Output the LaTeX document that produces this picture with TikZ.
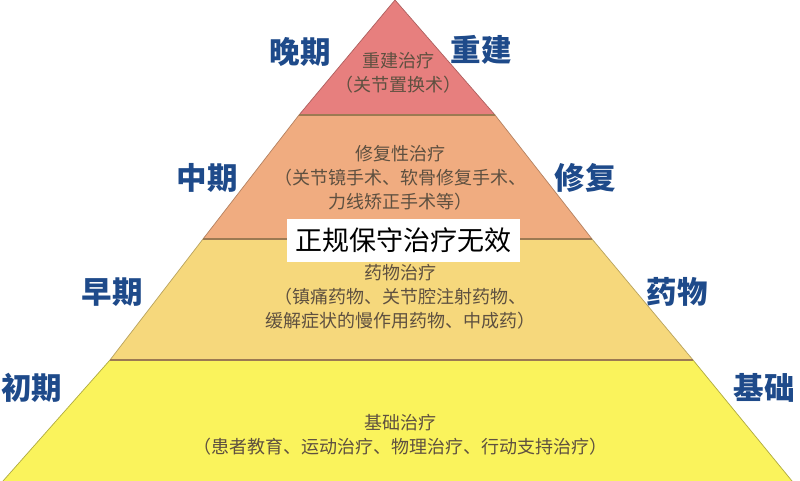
\documentclass[tikz,border=0pt]{standalone}
\usepackage{fontspec}
\newfontfamily\cjk{Noto Sans CJK SC}
\begin{document}
\begin{tikzpicture}[x=1pt,y=-1pt,
  inner/.style={font=\cjk\fontsize{18}{24}\selectfont, text=txtc, align=center, inner sep=0pt},
  stage/.style={font=\cjk\bfseries\fontsize{30.5}{32}\selectfont, text=lblc, inner sep=0pt},
  sepline/.style={draw=sepc, line width=1.2pt}]
\definecolor{c1}{HTML}{E77F7E}
\definecolor{c2}{HTML}{F0AC80}
\definecolor{c3}{HTML}{F6D87C}
\definecolor{c4}{HTML}{FAF35C}
\definecolor{sepc}{HTML}{9C7A52}
\definecolor{txtc}{HTML}{5E5040}
\definecolor{lblc}{HTML}{1E4A8A}
\useasboundingbox (0,0) rectangle (800,481);
\fill[white] (0,0) rectangle (800,481);
% layers
\coordinate (apex) at (395,0);
\coordinate (l1) at (299,115); \coordinate (r1) at (495,115);
\coordinate (l2) at (203,239); \coordinate (r2) at (592,239);
\coordinate (l3) at (110,360); \coordinate (r3) at (693,360);
\coordinate (l4) at (3,481);   \coordinate (r4) at (792,481);
\fill[c1] (apex) -- (r1) -- (l1) -- cycle;
\fill[c2] (l1) -- (r1) -- (r2) -- (l2) -- cycle;
\fill[c3] (l2) -- (r2) -- (r3) -- (l3) -- cycle;
\fill[c4] (l3) -- (r3) -- (r4) -- (l4) -- cycle;
\draw[draw=c1!75!black, line width=0.7pt] (l1) -- (apex) -- (r1);
\draw[draw=c2!75!black, line width=0.7pt] (l1) -- (l2) (r1) -- (r2);
\draw[draw=c3!75!black, line width=0.7pt] (l2) -- (l3) (r2) -- (r3);
\draw[draw=c4!70!black, line width=0.7pt] (l3) -- (l4) (r3) -- (r4);
\draw[sepline] (l1) -- (r1);
\draw[sepline] (l2) -- (r2);
\draw[sepline] (l3) -- (r3);
% inner texts
\node[inner] (t1) at (398,73) {重建治疗\\（关节置换术）};
\node[inner] (t2) at (400,178) {修复性治疗\\（关节镜手术、软骨修复手术、\\力线矫正手术等）};
\node[inner] (t3) at (400,297) {药物治疗\\（镇痛药物、关节腔注射药物、\\缓解症状的慢作用药物、中成药）};
\node[inner] (t4) at (400,435) {基础治疗\\（患者教育、运动治疗、物理治疗、行动支持治疗）};
% white box
\node[fill=white, minimum width=233pt, minimum height=43pt, inner sep=0pt,
  font=\cjk\fontsize{27}{30}\selectfont, text=black] (fail) at (403,240) {正规保守治疗无效};
% stage labels
\node[stage] (s1) at (300,52) {晚期};
\node[stage] (p1) at (481,50) {重建};
\node[stage] (s2) at (207,178) {中期};
\node[stage] (p2) at (585,178) {修复};
\node[stage] (s3) at (112,292) {早期};
\node[stage] (p3) at (677,292) {药物};
\node[stage] (s4) at (32,388) {初期};
\node[stage] (p4) at (764,388) {基础};
\end{tikzpicture}
\end{document}
